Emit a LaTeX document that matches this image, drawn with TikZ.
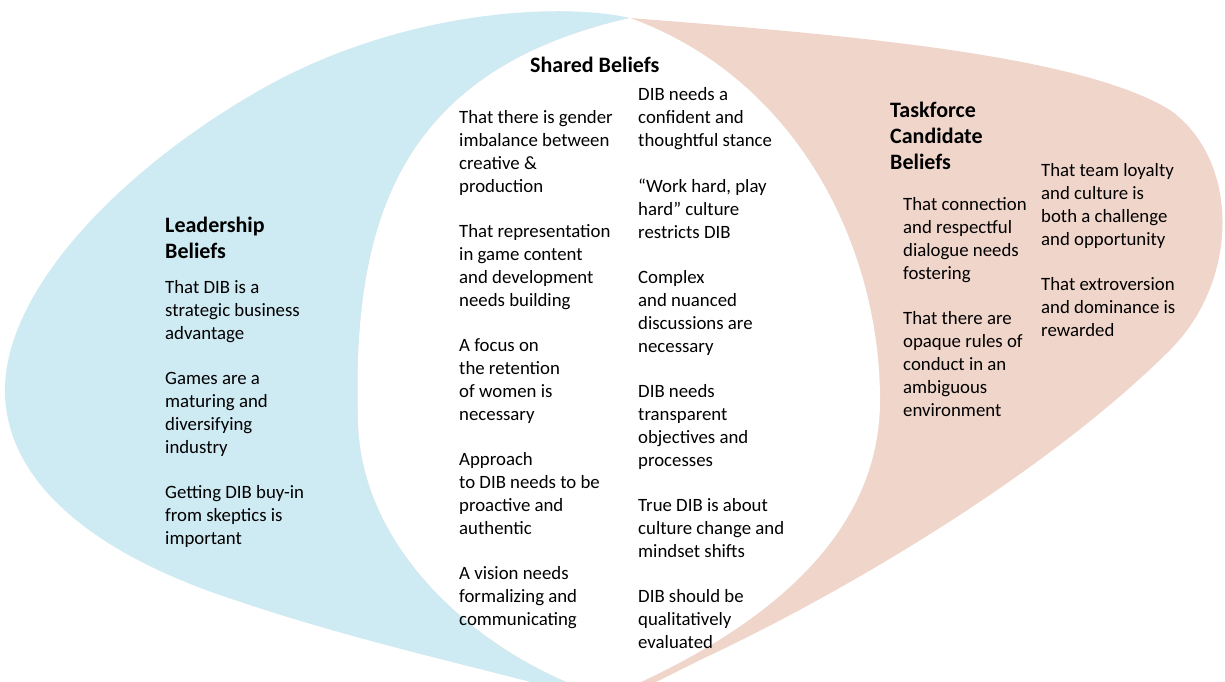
\documentclass[tikz,border=0pt]{standalone}
\usepackage{fontspec}
\setmainfont{Carlito}
\usetikzlibrary{positioning}
\definecolor{leadblue}{RGB}{206,234,242}
\definecolor{taskpink}{RGB}{240,213,203}

\begin{document}
\begin{tikzpicture}[x=1pt,y=-1pt,
    head/.style={align=left, anchor=base west, inner sep=0pt, font=\fontsize{22}{26}\selectfont\bfseries},
    belief/.style={align=left, anchor=base west, inner sep=0pt, font=\fontsize{18.8}{23}\selectfont}]
    \useasboundingbox (0,0) rectangle (1225,681);
    \clip (0,0) rectangle (1225,681);
    % the two leaves
    \fill[leadblue] (630,18) .. controls (560,2) and (400,10) .. (260,90)
        .. controls (120,170) and (5,290) .. (5,390)
        .. controls (5,480) and (90,550) .. (220,595)
        .. controls (350,640) and (470,665) .. (600,700)
        .. controls (720,650) and (880,560) .. (880,400)
        .. controls (880,250) and (800,80) .. (630,18) -- cycle;
    \fill[taskpink] (630,18) .. controls (850,35) and (1080,55) .. (1170,110)
        .. controls (1240,160) and (1240,280) .. (1170,350)
        .. controls (1050,470) and (850,590) .. (700,660)
        .. controls (660,680) and (640,690) .. (620,700)
        .. controls (500,670) and (360,560) .. (358,420)
        .. controls (352,220) and (400,70) .. (630,18) -- cycle;
    % overlap is left white
    \begin{scope}
        \clip (630,18) .. controls (560,2) and (400,10) .. (260,90)
            .. controls (120,170) and (5,290) .. (5,390)
            .. controls (5,480) and (90,550) .. (220,595)
            .. controls (350,640) and (470,665) .. (600,700)
            .. controls (720,650) and (880,560) .. (880,400)
            .. controls (880,250) and (800,80) .. (630,18) -- cycle;
        \fill[white] (630,18) .. controls (850,35) and (1080,55) .. (1170,110)
            .. controls (1240,160) and (1240,280) .. (1170,350)
            .. controls (1050,470) and (850,590) .. (700,660)
            .. controls (660,680) and (640,690) .. (620,700)
            .. controls (500,670) and (360,560) .. (358,420)
            .. controls (352,220) and (400,70) .. (630,18) -- cycle;
    \end{scope}

    % leadership (nodes sit on the baseline of their last line)
    \node[head] (lead) at (165,258) {Leadership\\Beliefs};
    \node[belief] (lead_1) at (165,339) {That DIB is a\\strategic business\\advantage};
    \node[belief] (lead_2) at (165,453) {Games are a\\maturing and\\diversifying\\industry};
    \node[belief] (lead_3) at (165,544) {Getting DIB buy-in\\from skeptics is\\important};

    % shared
    \node[head] (shared) at (530,72) {Shared Beliefs};
    \node[belief] (sh_a1) at (459,192) {That there is gender\\imbalance between\\creative \&\\production};
    \node[belief] (sh_a2) at (459,306) {That representation\\in game content\\and development\\needs building};
    \node[belief] (sh_a3) at (459,420) {A focus on\\the retention\\of women is\\necessary};
    \node[belief] (sh_a4) at (459,534) {Approach\\to DIB needs to be\\proactive and\\authentic};
    \node[belief] (sh_a5) at (459,625) {A vision needs\\formalizing and\\communicating};
    \node[belief] (sh_b1) at (638,146) {DIB needs a\\confident and\\thoughtful stance};
    \node[belief] (sh_b2) at (638,238) {“Work hard, play\\hard” culture\\restricts DIB};
    \node[belief] (sh_b3) at (638,352) {Complex\\and nuanced\\discussions are\\necessary};
    \node[belief] (sh_b4) at (638,466) {DIB needs\\transparent\\objectives and\\processes};
    \node[belief] (sh_b5) at (638,557) {True DIB is about\\culture change and\\mindset shifts};
    \node[belief] (sh_b6) at (638,648) {DIB should be\\qualitatively\\evaluated};

    % taskforce
    \node[head] (task) at (890,169) {Taskforce\\Candidate\\Beliefs};
    \node[belief] (task_a1) at (903,279) {That connection\\and respectful\\dialogue needs\\fostering};
    \node[belief] (task_a2) at (903,416) {That there are\\opaque rules of\\conduct in an\\ambiguous\\environment};
    \node[belief] (task_b1) at (1041,245) {That team loyalty\\and culture is\\both a challenge\\and opportunity};
    \node[belief] (task_b2) at (1041,336) {That extroversion\\and dominance is\\rewarded};
\end{tikzpicture}
\end{document}
